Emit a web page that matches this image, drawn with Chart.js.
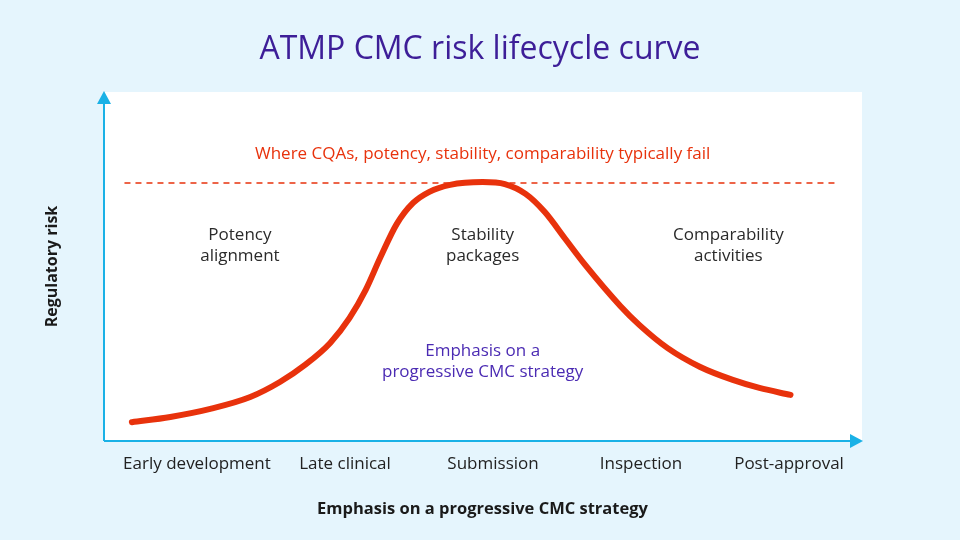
<!DOCTYPE html>
<html>
<head>
<meta charset="utf-8">
<script src="https://cdn.jsdelivr.net/npm/chart.js@4.4.0/dist/chart.umd.min.js"></script>
<style>
  html, body { margin: 0; padding: 0; background: #e5f5fd; }
  #wrap { width: 960px; height: 540px; }
</style>
</head>
<body>
<div id="wrap"><canvas id="c" width="960" height="540"></canvas></div>
<script>
// ---- data ----
const categories = ['Early development', 'Late clinical', 'Submission', 'Inspection', 'Post-approval'];
// curve: stage position (0 = Early development ... 4 = Post-approval) and regulatory risk (0-100)
const curveX = [-0.44, -0.18, 0.09, 0.36, 0.56, 0.73, 0.90, 1.03, 1.14, 1.24, 1.35, 1.46, 1.57, 1.71, 1.93, 2.08, 2.22, 2.35, 2.49, 2.62, 2.86, 2.99, 3.18, 3.40, 3.62, 3.80, 4.01];
const curveY = [5.4, 6.9, 9.2, 12.6, 16.9, 21.8, 28.1, 35.2, 43.3, 52.7, 62.2, 68.2, 71.4, 73.4, 74.2, 73.6, 70.8, 65.6, 57.8, 50.6, 38.7, 33.2, 26.6, 21.2, 17.5, 15.2, 13.2];
const thresholdX = [-0.49, 4.33];
const thresholdY = [73.9, 73.9];
const thresholdLabel = 'Where CQAs, potency, stability, comparability typically fail';
const stageNotes = [
  { x: 0.29, y: 59.1, lines: ['Potency', 'alignment'] },
  { x: 1.93, y: 59.1, lines: ['Stability', 'packages'] },
  { x: 3.59, y: 59.1, lines: ['Comparability', 'activities'] }
];
const emphasisNote = { x: 1.93, y: 25.8, lines: ['Emphasis on a', 'progressive CMC strategy'] };

const FONT = '"Open Sans", Lato, sans-serif';
const RED = '#e8320c';
const CYAN = '#1ab1e6';
const PURPLE = '#3d1e98';

const curve = curveX.map((x, i) => ({ x, y: curveY[i] }));
const threshold = thresholdX.map((x, i) => ({ x, y: thresholdY[i] }));

const decor = {
  id: 'decor',
  beforeDraw(chart) {
    const { ctx, chartArea: a } = chart;
    ctx.save();
    ctx.fillStyle = '#ffffff';
    ctx.fillRect(a.left, a.top, a.right - a.left, a.bottom - a.top);
    ctx.restore();
  },
  afterDatasetsDraw(chart) {
    const { ctx, chartArea: a, scales: { x, y } } = chart;
    ctx.save();
    // axes with arrows
    ctx.strokeStyle = CYAN; ctx.fillStyle = CYAN; ctx.lineWidth = 2;
    ctx.beginPath();
    ctx.moveTo(a.left + 1, a.bottom); ctx.lineTo(a.left + 1, a.top + 6);
    ctx.moveTo(a.left + 1, a.bottom); ctx.lineTo(a.right - 8, a.bottom);
    ctx.stroke();
    ctx.beginPath();
    ctx.moveTo(a.left + 1, a.top - 1); ctx.lineTo(a.left - 6, a.top + 12); ctx.lineTo(a.left + 8, a.top + 12); ctx.closePath(); ctx.fill();
    ctx.beginPath();
    ctx.moveTo(a.right + 1, a.bottom); ctx.lineTo(a.right - 12, a.bottom - 7); ctx.lineTo(a.right - 12, a.bottom + 7); ctx.closePath(); ctx.fill();

    ctx.textAlign = 'center'; ctx.textBaseline = 'middle';
    // threshold label
    ctx.font = '17px ' + FONT;
    ctx.fillStyle = RED;
    ctx.fillText(thresholdLabel, x.getPixelForValue(1.93), y.getPixelForValue(82.2));
    // stage notes
    ctx.fillStyle = '#2a2a2a';
    stageNotes.forEach(n => {
      const px = x.getPixelForValue(n.x), py = y.getPixelForValue(n.y);
      n.lines.forEach((t, i) => ctx.fillText(t, px, py + i * 21));
    });
    ctx.fillStyle = '#4b2bb3';
    const ex = x.getPixelForValue(emphasisNote.x), ey = y.getPixelForValue(emphasisNote.y);
    emphasisNote.lines.forEach((t, i) => ctx.fillText(t, ex, ey + i * 21));
    ctx.restore();
  }
};

new Chart(document.getElementById('c'), {
  type: 'line',
  data: {
    datasets: [
      { data: curve, borderColor: RED, borderWidth: 6, pointRadius: 0, cubicInterpolationMode: 'monotone', borderCapStyle: 'round', borderJoinStyle: 'round', fill: false },
      { data: threshold, borderColor: RED, borderWidth: 1.5, borderDash: [6, 5], pointRadius: 0, fill: false }
    ]
  },
  options: {
    responsive: false,
    animation: false,
    events: [],
    layout: { padding: 0 },
    plugins: {
      legend: { display: false },
      tooltip: { enabled: false },
      title: {
        display: true,
        text: 'ATMP CMC risk lifecycle curve',
        color: PURPLE,
        font: { family: FONT, size: 32, weight: '400', lineHeight: 1.2 },
        padding: { top: 31, bottom: 22.6 }
      }
    },
    scales: {
      x: {
        type: 'linear',
        min: -0.635,
        max: 4.493,
        afterBuildTicks: s => { s.ticks = categories.map((c, i) => ({ value: i })); },
        afterFit: s => { s.height = 99; },
        grid: { display: false, drawTicks: false },
        border: { display: false },
        ticks: {
          padding: 13,
          color: '#222222',
          font: { family: FONT, size: 17 },
          autoSkip: false,
          maxRotation: 0,
          callback: v => categories[v]
        },
        title: {
          display: true,
          text: 'Emphasis on a progressive CMC strategy',
          color: '#1a1a1a',
          font: { family: FONT, size: 16.5, weight: 'bold', lineHeight: 1.2 },
          padding: { top: 0, bottom: 21 }
        }
      },
      y: {
        min: 0,
        max: 100,
        afterFit: s => { s.width = 103; },
        grid: { display: false, drawTicks: false },
        border: { display: false },
        ticks: { display: false },
        title: {
          display: true,
          text: 'Regulatory risk',
          color: '#1a1a1a',
          font: { family: FONT, size: 16, weight: 'bold', lineHeight: 1.2 },
          padding: { top: 43, bottom: 0 }
        }
      },
      yR: {
        position: 'right',
        min: 0, max: 100,
        afterFit: s => { s.width = 98; },
        grid: { display: false, drawTicks: false },
        border: { display: false },
        ticks: { display: false }
      }
    }
  },
  plugins: [decor]
});
</script>
</body>
</html>
